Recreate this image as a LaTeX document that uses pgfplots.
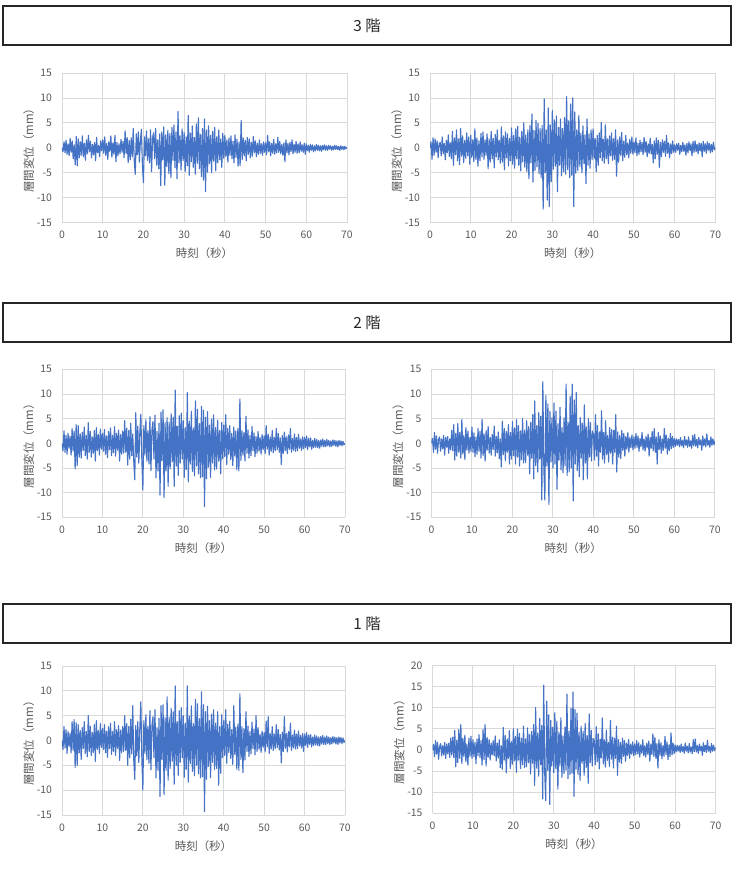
\documentclass[border=0pt]{standalone}
\usepackage{pgfplots}
\usepackage{pgfplotstable}
\pgfplotsset{compat=1.18}
\usepackage{fontspec}
\setmainfont{Noto Sans CJK JP}
\definecolor{exblue}{HTML}{4472C4}
\definecolor{txtgray}{HTML}{595959}
\definecolor{gridgray}{HTML}{D9D9D9}

\pgfplotstableread[row sep=\\]{y\\
0.0\\ -0.8\\ 1.2\\ -1.0\\ 1.5\\ -1.3\\ 0.8\\ -1.6\\ 1.9\\ -0.9\\ 1.4\\ -2.2\\ 0.6\\ -3.4\\ 2.3\\ -3.6\\ 1.8\\ -2.0\\ 1.2\\ -1.5\\
2.4\\ -1.8\\ 0.9\\ -2.5\\ 1.6\\ -1.2\\ 2.5\\ -0.8\\ 1.3\\ -2.0\\ 0.7\\ -1.4\\ 1.1\\ -2.6\\ 2.1\\ -1.0\\ 0.5\\ -1.8\\ 1.4\\ -0.6\\
1.6\\ -1.1\\ 2.2\\ -1.5\\ 0.9\\ -2.3\\ 1.2\\ -0.7\\ 2.4\\ -1.9\\ 1.0\\ -1.3\\ 2.5\\ -2.8\\ 1.1\\ -1.6\\ 0.8\\ -1.2\\ 1.7\\ -0.9\\
1.3\\ -2.0\\ 3.4\\ -1.2\\ 2.1\\ -3.0\\ 1.5\\ -2.4\\ 2.0\\ -1.8\\ 3.9\\ -2.6\\ -5.3\\ 2.8\\ -1.4\\ 3.2\\ -2.9\\ 1.4\\ 3.7\\ -3.5\\
-7.0\\ 2.2\\ -1.6\\ 3.4\\ -2.5\\ 1.8\\ -3.0\\ 3.6\\ -4.8\\ 2.0\\ 3.0\\ -2.2\\ 3.9\\ -3.5\\ 1.6\\ -4.2\\ 2.8\\ -7.6\\ 3.2\\ -2.4\\
4.2\\ -7.5\\ 2.6\\ -3.8\\ 3.5\\ -5.2\\ 2.9\\ -6.0\\ 4.1\\ -2.5\\ 4.6\\ -4.0\\ 3.2\\ -6.2\\ 7.3\\ -3.0\\ 2.4\\ -4.5\\ 3.8\\ -2.6\\
3.1\\ -4.8\\ 2.2\\ -3.6\\ 6.5\\ -5.5\\ 3.0\\ -2.8\\ 4.4\\ -3.9\\ 2.1\\ -5.3\\ 4.8\\ -3.1\\ 6.0\\ -4.2\\ 2.7\\ -5.8\\ 3.9\\ -6.5\\
5.8\\ -8.8\\ 3.6\\ -4.9\\ 4.4\\ -3.2\\ 2.5\\ -5.0\\ 3.3\\ -2.7\\ 4.1\\ -4.6\\ 2.2\\ -3.0\\ 3.6\\ -2.4\\ 1.8\\ -3.9\\ 2.9\\ -2.1\\
2.5\\ -1.8\\ 1.6\\ -2.9\\ 2.0\\ -1.5\\ 2.4\\ -2.2\\ 1.3\\ -3.0\\ 2.6\\ -1.9\\ 1.7\\ -3.7\\ 1.2\\ -3.6\\ 5.5\\ -2.4\\ 2.0\\ -1.6\\
1.5\\ -2.6\\ 2.1\\ -1.3\\ 1.8\\ -2.0\\ 1.1\\ -1.7\\ 2.3\\ -1.0\\ 1.4\\ -1.8\\ 0.9\\ -1.3\\ 1.6\\ -1.1\\ 0.8\\ -1.5\\ 1.2\\ -0.9\\
1.0\\ -1.4\\ 2.5\\ -0.8\\ 1.2\\ -1.6\\ 0.9\\ -1.1\\ 1.7\\ -1.3\\ 0.8\\ -1.0\\ 2.1\\ -0.9\\ 1.3\\ -1.2\\ 0.7\\ -1.5\\ 1.0\\ -2.8\\
1.6\\ -1.0\\ 0.9\\ -1.4\\ 1.1\\ -0.8\\ 1.6\\ -1.2\\ 0.7\\ -0.9\\ 1.3\\ -1.1\\ 0.8\\ -1.0\\ 1.2\\ -0.7\\ 0.6\\ -0.9\\ 0.9\\ -1.3\\
0.8\\ -0.6\\ 0.5\\ -0.9\\ 0.7\\ -0.5\\ 0.6\\ -0.8\\ 0.4\\ -0.6\\ 0.7\\ -0.5\\ 0.5\\ -0.6\\ 0.4\\ -0.7\\ 0.5\\ -0.4\\ 0.6\\ -0.5\\
0.4\\ -0.5\\ 0.5\\ -0.3\\ 0.4\\ -0.5\\ 0.3\\ -0.4\\ 0.5\\ -0.3\\ 0.4\\ -0.4\\ 0.3\\ -0.5\\ 0.4\\ -0.3\\ 0.3\\ -0.4\\ 0.3\\ -0.2\\
0.1\\
}\dataA

\pgfplotstableread[row sep=\\]{y\\
0.0\\ 1.2\\ -2.3\\ 2.0\\ -1.5\\ 1.8\\ -0.9\\ 1.4\\ -2.0\\ 0.8\\ 1.1\\ -1.6\\ 2.2\\ -1.2\\ 0.9\\ -2.4\\ 1.5\\ -1.0\\ 2.6\\ -1.8\\
1.0\\ -2.2\\ 3.3\\ -3.5\\ 2.0\\ -1.4\\ 3.6\\ -2.6\\ 1.8\\ -3.4\\ 3.9\\ -1.7\\ 2.4\\ -3.0\\ 1.5\\ -2.1\\ 3.0\\ -1.6\\ 2.2\\ -3.3\\
2.5\\ -1.9\\ 1.6\\ -2.8\\ 3.8\\ -2.4\\ 2.0\\ -3.7\\ 1.4\\ -2.6\\ 2.9\\ -1.8\\ 3.2\\ -2.3\\ 1.6\\ -1.5\\ 2.8\\ -4.2\\ 1.8\\ -2.9\\
3.3\\ -2.2\\ 1.9\\ -4.0\\ 2.7\\ -1.8\\ 3.6\\ -2.4\\ 1.5\\ -3.1\\ 4.2\\ -2.9\\ 2.4\\ -4.4\\ 3.2\\ -2.0\\ 2.8\\ -3.6\\ 1.9\\ -2.6\\
4.0\\ -3.3\\ 2.5\\ -4.1\\ 3.8\\ -2.2\\ 4.3\\ -3.5\\ 2.1\\ -4.6\\ 3.3\\ -2.8\\ 5.0\\ -3.9\\ 2.6\\ -4.8\\ 3.6\\ -6.2\\ 4.5\\ -3.0\\
6.8\\ -6.9\\ 3.5\\ -4.5\\ 5.5\\ -3.8\\ 4.9\\ -5.2\\ 3.9\\ -6.0\\ 4.5\\ -12.3\\ 9.8\\ -5.0\\ 3.6\\ -10.5\\ 8.0\\ -11.8\\ 4.6\\ -6.8\\
7.5\\ -4.3\\ 5.6\\ -3.7\\ 6.4\\ -8.8\\ 4.1\\ -3.5\\ 5.8\\ -5.6\\ 3.9\\ -4.8\\ 6.1\\ -5.3\\ 10.3\\ -4.4\\ 5.4\\ -6.0\\ 8.8\\ -5.5\\
10.0\\ -11.8\\ 7.2\\ -5.1\\ 3.6\\ -4.6\\ 6.5\\ -3.8\\ 2.9\\ -5.0\\ 4.4\\ -3.2\\ 2.6\\ -7.2\\ 5.8\\ -3.5\\ 2.8\\ -4.1\\ 3.6\\ -2.4\\
3.8\\ -2.2\\ 1.9\\ -4.8\\ 2.5\\ -3.5\\ 3.0\\ -2.0\\ 5.1\\ -2.6\\ 1.7\\ -3.1\\ 4.6\\ -2.2\\ 1.8\\ -3.2\\ 2.4\\ -1.6\\ 3.0\\ -2.5\\
1.8\\ -2.3\\ 3.6\\ -5.7\\ 1.6\\ -2.9\\ 2.2\\ -1.5\\ 3.1\\ -2.6\\ 1.3\\ -1.9\\ 2.5\\ -1.4\\ 1.0\\ -2.0\\ 1.7\\ -1.1\\ 2.2\\ -1.3\\
1.2\\ -1.0\\ 2.0\\ -1.6\\ 0.9\\ -1.3\\ 1.5\\ -0.8\\ 1.1\\ -1.4\\ 2.1\\ -0.9\\ 1.3\\ -1.8\\ 0.8\\ -1.1\\ 1.9\\ -1.2\\ 0.7\\ -3.0\\
1.4\\ -2.2\\ 2.0\\ -1.3\\ 1.5\\ -4.0\\ 1.1\\ -1.8\\ 1.6\\ -0.9\\ 1.3\\ -1.7\\ 2.5\\ -1.1\\ 1.0\\ -2.0\\ 0.8\\ -1.2\\ 1.4\\ -0.9\\
0.6\\ -0.9\\ 0.8\\ -0.5\\ 0.9\\ -1.3\\ 0.5\\ -0.8\\ 1.1\\ -0.7\\ 0.6\\ -1.5\\ 0.9\\ -1.0\\ 1.2\\ -0.6\\ 0.8\\ -1.6\\ 1.3\\ -0.9\\
1.4\\ -0.8\\ 0.7\\ -1.2\\ 1.0\\ -0.6\\ 0.9\\ -1.8\\ 1.3\\ -0.7\\ 0.8\\ -1.1\\ 1.2\\ -0.5\\ 0.9\\ -1.0\\ 0.7\\ -0.8\\ 1.1\\ -0.4\\
0.0\\
}\dataB

\pgfplotstableread[row sep=\\]{y\\
0.0\\ -1.5\\ 2.5\\ -1.8\\ 1.6\\ -2.2\\ 2.0\\ -1.0\\ 1.4\\ -2.4\\ 3.0\\ -1.6\\ 2.5\\ -5.2\\ 3.8\\ -4.5\\ 3.6\\ -2.8\\ 1.9\\ -3.0\\
2.2\\ -1.4\\ 3.3\\ -2.5\\ 1.6\\ -3.2\\ 4.2\\ -1.8\\ 2.4\\ -2.8\\ 1.3\\ -2.0\\ 2.6\\ -3.6\\ 3.2\\ -1.5\\ 1.8\\ -2.4\\ 2.9\\ -1.2\\
2.0\\ -1.6\\ 2.8\\ -2.2\\ 1.5\\ -2.9\\ 2.4\\ -1.3\\ 3.1\\ -2.5\\ 1.6\\ -1.9\\ 3.4\\ -2.6\\ 2.0\\ -1.4\\ 2.7\\ -3.6\\ 1.8\\ -2.2\\
2.5\\ -2.0\\ 4.6\\ -1.8\\ 3.1\\ -4.4\\ 2.6\\ -3.2\\ 4.1\\ -2.5\\ 1.9\\ -3.6\\ -7.4\\ 6.2\\ -2.8\\ 3.5\\ -4.0\\ 2.1\\ 5.9\\ -3.3\\
-9.5\\ 3.6\\ -2.4\\ 4.8\\ -3.6\\ 2.6\\ -4.2\\ 5.4\\ -5.5\\ 2.8\\ 4.4\\ -3.2\\ 5.7\\ -7.0\\ 2.4\\ -5.6\\ 4.1\\ -10.5\\ 6.3\\ -3.5\\
6.8\\ -11.0\\ 4.2\\ -5.6\\ 5.2\\ -8.7\\ 4.3\\ -5.2\\ 6.0\\ -3.8\\ 5.3\\ -8.7\\ 10.8\\ -4.6\\ 3.5\\ -6.5\\ 5.6\\ -4.0\\ 6.1\\ -3.2\\
4.6\\ -6.9\\ 3.2\\ -5.3\\ 10.3\\ -7.8\\ 4.5\\ -4.2\\ 6.5\\ -5.7\\ 3.1\\ -6.6\\ 8.6\\ -4.6\\ 6.9\\ -6.2\\ 4.0\\ -7.0\\ 7.5\\ -6.8\\
6.7\\ -12.8\\ 5.3\\ -7.2\\ 6.4\\ -4.8\\ 3.7\\ -6.9\\ 4.9\\ -4.0\\ 5.8\\ -5.4\\ 3.2\\ -5.2\\ 4.7\\ -3.6\\ 2.6\\ -6.2\\ 4.2\\ -3.1\\
3.7\\ -2.7\\ 5.8\\ -4.3\\ 3.0\\ -2.2\\ 3.6\\ -3.3\\ 2.0\\ -4.5\\ 3.3\\ -2.6\\ 2.5\\ -5.4\\ 3.0\\ -5.6\\ 9.0\\ -3.5\\ 2.6\\ -2.4\\
2.2\\ -3.6\\ 5.5\\ -2.0\\ 2.7\\ -3.0\\ 1.6\\ -2.5\\ 3.4\\ -1.5\\ 2.1\\ -2.7\\ 1.4\\ -2.0\\ 2.4\\ -1.6\\ 1.2\\ -2.2\\ 1.8\\ -1.3\\
1.5\\ -2.1\\ 3.6\\ -1.2\\ 1.8\\ -2.4\\ 1.3\\ -1.6\\ 2.6\\ -1.9\\ 1.2\\ -1.5\\ 3.0\\ -1.3\\ 2.0\\ -1.8\\ 1.1\\ -4.3\\ 1.6\\ -2.0\\
2.3\\ -1.5\\ 1.3\\ -2.1\\ 1.7\\ -1.2\\ 3.0\\ -1.8\\ 1.0\\ -1.4\\ 1.9\\ -1.6\\ 1.2\\ -1.5\\ 1.8\\ -1.0\\ 0.9\\ -1.4\\ 1.3\\ -1.1\\
1.2\\ -0.9\\ 1.5\\ -1.3\\ 1.0\\ -0.7\\ 1.1\\ -1.2\\ 0.6\\ -0.9\\ 1.0\\ -0.8\\ 0.8\\ -0.9\\ 0.6\\ -1.0\\ 0.7\\ -0.6\\ 0.9\\ -0.7\\
0.6\\ -0.7\\ 0.8\\ -0.5\\ 0.6\\ -0.7\\ 0.5\\ -0.6\\ 0.7\\ -0.4\\ 0.6\\ -0.6\\ 0.5\\ -0.7\\ 0.6\\ -0.4\\ 0.5\\ -0.5\\ 0.4\\ -0.3\\
0.0\\
}\dataC

\pgfplotstableread[row sep=\\]{y\\
0.0\\ 1.0\\ -1.8\\ 2.2\\ -1.2\\ 1.5\\ -2.0\\ 0.8\\ 1.3\\ -1.6\\ 0.9\\ -1.1\\ 1.6\\ -2.4\\ 1.2\\ -0.8\\ 1.4\\ -2.0\\ 0.9\\ -1.3\\
2.6\\ -1.5\\ 3.8\\ -3.4\\ 2.0\\ -2.6\\ 4.0\\ -1.8\\ 2.2\\ -3.0\\ 4.8\\ -2.2\\ 1.6\\ -3.3\\ 3.2\\ -1.4\\ 2.5\\ -2.0\\ 1.2\\ -1.6\\
3.3\\ -1.8\\ 2.1\\ -2.7\\ 1.3\\ -2.2\\ 3.0\\ -1.6\\ 2.4\\ -3.0\\ 4.9\\ -2.5\\ 1.9\\ -3.6\\ 2.6\\ -1.4\\ 3.4\\ -2.0\\ 1.2\\ -2.4\\
1.8\\ -1.2\\ 3.5\\ -2.6\\ 1.4\\ -1.9\\ 2.3\\ -3.1\\ 0.9\\ -4.8\\ 4.5\\ -2.3\\ 3.0\\ -3.5\\ 2.4\\ -1.8\\ 3.8\\ -4.2\\ 2.2\\ -3.2\\
4.4\\ -2.5\\ 3.1\\ -4.2\\ 4.8\\ -2.8\\ 3.6\\ -4.6\\ 2.5\\ -3.3\\ 5.0\\ -4.0\\ 2.7\\ -3.9\\ 4.6\\ -2.4\\ 3.4\\ -6.2\\ 4.2\\ -3.0\\
5.8\\ -7.2\\ 8.6\\ -4.5\\ 3.6\\ -5.8\\ 6.2\\ -3.2\\ 5.5\\ -11.5\\ 12.5\\ -5.0\\ -11.5\\ 9.7\\ -4.6\\ 8.0\\ -12.4\\ 6.5\\ -3.8\\ 5.2\\
-5.0\\ 8.2\\ -4.2\\ 6.5\\ -9.3\\ 4.0\\ -3.4\\ 7.3\\ -5.4\\ 3.2\\ -6.0\\ 5.2\\ -4.6\\ 12.0\\ -6.5\\ 4.3\\ -5.8\\ 9.5\\ -5.0\\ 12.0\\
-11.7\\ 8.8\\ -4.2\\ 10.3\\ -5.5\\ 3.6\\ -6.8\\ 5.2\\ -3.0\\ 4.1\\ -7.4\\ 7.8\\ -4.0\\ 3.3\\ -7.2\\ 5.0\\ -2.8\\ 4.2\\ -3.6\\ 2.5\\
1.8\\ -3.4\\ 5.8\\ -2.6\\ 3.6\\ -4.6\\ 2.3\\ -1.8\\ 6.6\\ -3.2\\ 2.2\\ -4.0\\ 4.6\\ -2.3\\ 1.6\\ -3.8\\ 3.2\\ -2.0\\ 2.8\\ -4.2\\
2.6\\ -1.8\\ 5.8\\ -5.8\\ 2.3\\ -2.8\\ 1.6\\ -3.1\\ 2.6\\ -1.4\\ 2.0\\ -2.6\\ 1.4\\ -1.2\\ 2.2\\ -1.8\\ 1.2\\ -0.9\\ 1.7\\ -1.3\\
1.3\\ -1.0\\ 2.0\\ -0.8\\ 1.5\\ -1.6\\ 1.0\\ -0.7\\ 2.2\\ -1.3\\ 0.9\\ -1.6\\ 1.4\\ -0.9\\ 1.9\\ -2.6\\ 1.2\\ -1.0\\ 2.4\\ -1.5\\
3.0\\ -1.8\\ 1.3\\ -4.2\\ 2.2\\ -1.2\\ 1.5\\ -2.0\\ 0.9\\ -1.4\\ 3.0\\ -1.0\\ 1.7\\ -2.2\\ 1.0\\ -1.5\\ 2.0\\ -1.1\\ 1.4\\ -0.8\\
1.0\\ -0.6\\ 0.9\\ -0.4\\ 0.8\\ -0.7\\ 1.2\\ -0.5\\ 0.6\\ -0.9\\ 1.4\\ -0.4\\ 0.7\\ -0.8\\ 1.3\\ -0.6\\ 0.5\\ -1.0\\ 1.6\\ -0.5\\
1.8\\ -0.6\\ 0.8\\ -0.9\\ 1.2\\ -0.3\\ 0.7\\ -1.4\\ 1.5\\ -0.5\\ 0.9\\ -0.7\\ 1.9\\ -0.4\\ 0.6\\ -0.8\\ 1.3\\ -0.4\\ 0.9\\ -0.3\\
0.5\\
}\dataD

\pgfplotstableread[row sep=\\]{y\\
0.0\\ -1.8\\ 2.8\\ -1.5\\ 2.2\\ -2.6\\ 1.8\\ -1.2\\ 1.5\\ -2.5\\ 3.8\\ -2.0\\ 4.2\\ -5.4\\ 3.6\\ -5.0\\ 3.2\\ -2.5\\ 2.0\\ -3.8\\
2.6\\ -1.6\\ 3.8\\ -2.6\\ 1.8\\ -3.3\\ 5.0\\ -2.2\\ 2.9\\ -3.0\\ 1.6\\ -2.4\\ 3.2\\ -4.2\\ 4.0\\ -1.8\\ 2.0\\ -2.6\\ 3.4\\ -1.4\\
2.4\\ -1.8\\ 3.2\\ -2.5\\ 1.9\\ -3.4\\ 2.8\\ -1.6\\ 3.5\\ -2.8\\ 1.8\\ -2.2\\ 3.8\\ -3.0\\ 2.2\\ -1.6\\ 3.0\\ -4.0\\ 2.1\\ -2.5\\
2.8\\ -2.2\\ 5.0\\ -2.0\\ 3.4\\ -5.0\\ 2.8\\ -3.5\\ 4.3\\ -2.7\\ 7.0\\ -3.9\\ -7.8\\ 3.0\\ -3.1\\ 3.8\\ -4.4\\ 2.4\\ 7.8\\ -3.6\\
-10.0\\ 4.0\\ -2.6\\ 5.2\\ -3.9\\ 2.9\\ -4.6\\ 6.0\\ -5.9\\ 3.1\\ 4.8\\ -3.5\\ 6.2\\ -7.5\\ 2.6\\ -6.0\\ 4.5\\ -11.3\\ 7.0\\ -3.8\\
7.2\\ -10.9\\ 4.6\\ -6.0\\ 8.8\\ -8.0\\ 4.7\\ -5.6\\ 6.5\\ -4.2\\ 5.8\\ -8.8\\ 11.0\\ -5.0\\ 3.8\\ -7.0\\ 6.0\\ -4.4\\ 6.6\\ -3.5\\
5.0\\ -7.4\\ 3.5\\ -5.8\\ 11.0\\ -8.4\\ 4.9\\ -4.6\\ 7.0\\ -6.2\\ 3.4\\ -7.1\\ 8.3\\ -5.0\\ 7.4\\ -6.7\\ 4.4\\ -7.5\\ 9.8\\ -7.3\\
7.2\\ -14.3\\ 5.8\\ -7.8\\ 6.9\\ -5.2\\ 4.0\\ -7.5\\ 5.3\\ -4.4\\ 6.2\\ -5.8\\ 3.5\\ -5.6\\ 5.8\\ -9.0\\ 2.8\\ -6.6\\ 5.2\\ -3.4\\
4.0\\ -3.0\\ 6.2\\ -4.6\\ 3.3\\ -2.4\\ 3.9\\ -3.6\\ 2.2\\ -4.8\\ 7.0\\ -2.8\\ 2.7\\ -5.8\\ 3.3\\ -6.0\\ 9.4\\ -3.8\\ 2.8\\ -6.5\\
2.4\\ -3.9\\ 5.8\\ -2.2\\ 2.9\\ -3.2\\ 1.8\\ -2.7\\ 3.7\\ -1.6\\ 2.3\\ -2.9\\ 5.0\\ -2.2\\ 2.6\\ -1.8\\ 1.3\\ -2.4\\ 1.9\\ -1.4\\
1.6\\ -2.3\\ 3.9\\ -1.3\\ 4.8\\ -2.6\\ 1.4\\ -1.7\\ 2.8\\ -2.0\\ 1.3\\ -1.6\\ 3.2\\ -1.4\\ 2.2\\ -1.9\\ 1.2\\ -4.5\\ 1.7\\ -2.2\\
4.8\\ -1.6\\ 1.4\\ -2.3\\ 1.8\\ -1.3\\ 3.5\\ -2.0\\ 1.1\\ -1.5\\ 2.1\\ -1.7\\ 1.3\\ -1.6\\ 1.9\\ -1.1\\ 1.0\\ -1.5\\ 1.4\\ -2.2\\
1.3\\ -1.0\\ 1.6\\ -1.4\\ 1.1\\ -0.8\\ 1.2\\ -1.3\\ 0.7\\ -1.0\\ 1.1\\ -0.9\\ 0.9\\ -1.0\\ 0.7\\ -1.1\\ 0.8\\ -0.7\\ 1.0\\ -0.8\\
0.7\\ -0.8\\ 0.9\\ -0.6\\ 0.7\\ -0.8\\ 0.6\\ -0.7\\ 0.8\\ -0.5\\ 0.7\\ -0.7\\ 0.6\\ -0.8\\ 0.7\\ -0.5\\ 0.6\\ -0.6\\ 0.5\\ -0.4\\
0.0\\
}\dataE

\pgfplotstableread[row sep=\\]{y\\
0.0\\ 1.3\\ -1.6\\ 2.2\\ -1.0\\ 1.8\\ -2.2\\ 0.8\\ 1.5\\ -1.4\\ 1.0\\ -1.2\\ 1.8\\ -2.0\\ 1.4\\ -0.9\\ 1.6\\ -1.8\\ 2.8\\ -1.2\\
3.0\\ -1.8\\ 4.6\\ -4.0\\ 2.3\\ -3.0\\ 4.8\\ -2.0\\ 6.0\\ -3.2\\ 2.8\\ -1.6\\ 3.5\\ -2.8\\ 1.4\\ -3.6\\ 2.8\\ -1.5\\ 3.2\\ -2.0\\
2.4\\ -1.6\\ 1.8\\ -3.2\\ 2.6\\ -1.4\\ 3.6\\ -1.8\\ 2.2\\ -3.6\\ 4.8\\ -2.3\\ 6.0\\ -3.8\\ 3.0\\ -1.8\\ 2.5\\ -2.4\\ 1.6\\ -1.2\\
2.2\\ -1.4\\ 3.3\\ -2.6\\ 1.6\\ -1.9\\ 2.4\\ -4.2\\ 1.0\\ -4.6\\ 5.3\\ -2.4\\ 3.4\\ -5.4\\ 2.6\\ -2.0\\ 4.6\\ -4.4\\ 2.0\\ -3.4\\
5.0\\ -2.6\\ 3.2\\ -5.3\\ 4.9\\ -2.4\\ 3.9\\ -4.4\\ 2.8\\ -3.5\\ 5.6\\ -4.2\\ 2.6\\ -4.0\\ 5.2\\ -3.0\\ 3.6\\ -5.7\\ 4.4\\ -3.2\\
6.0\\ -8.4\\ 10.0\\ -4.3\\ 4.0\\ -6.2\\ 7.5\\ -3.5\\ 5.8\\ -11.6\\ 15.3\\ -5.5\\ -12.0\\ 11.5\\ -4.8\\ 8.3\\ -12.9\\ 7.0\\ -3.8\\ 5.4\\
-5.4\\ 8.8\\ -4.5\\ 6.8\\ -9.3\\ 4.2\\ -3.8\\ 7.6\\ -6.5\\ 3.3\\ -5.6\\ 5.4\\ -4.8\\ 13.2\\ -6.8\\ 4.5\\ -5.8\\ 9.8\\ -5.5\\ 13.7\\
-11.0\\ 9.5\\ -4.6\\ 8.7\\ -5.8\\ 4.2\\ -7.2\\ 5.6\\ -3.2\\ 4.4\\ -6.0\\ 6.3\\ -4.2\\ 3.4\\ -7.9\\ 8.5\\ -3.0\\ 4.6\\ -3.8\\ 2.7\\
2.2\\ -3.5\\ 5.5\\ -2.8\\ 3.8\\ -4.5\\ 2.5\\ -1.9\\ 7.6\\ -3.3\\ 2.4\\ -4.1\\ 4.7\\ -2.5\\ 1.8\\ -3.9\\ 7.0\\ -2.2\\ 3.0\\ -4.3\\
2.8\\ -2.0\\ 5.6\\ -6.0\\ 2.4\\ -2.9\\ 1.8\\ -3.2\\ 2.8\\ -1.5\\ 2.2\\ -2.7\\ 1.6\\ -1.3\\ 2.5\\ -2.0\\ 1.4\\ -1.0\\ 1.9\\ -1.4\\
1.4\\ -1.1\\ 2.2\\ -0.9\\ 1.7\\ -1.7\\ 1.2\\ -0.8\\ 2.4\\ -1.4\\ 1.0\\ -1.7\\ 1.6\\ -1.0\\ 2.1\\ -2.7\\ 1.4\\ -1.1\\ 3.8\\ -1.6\\
3.0\\ -2.0\\ 1.5\\ -4.3\\ 2.4\\ -1.3\\ 1.7\\ -2.1\\ 1.0\\ -1.5\\ 3.2\\ -1.1\\ 1.9\\ -2.3\\ 1.2\\ -1.6\\ 4.0\\ -1.2\\ 1.6\\ -0.9\\
1.2\\ -0.5\\ 1.1\\ -0.3\\ 1.0\\ -0.6\\ 1.4\\ -0.4\\ 0.8\\ -0.8\\ 1.6\\ -0.3\\ 0.9\\ -0.7\\ 1.5\\ -0.5\\ 0.7\\ -0.9\\ 2.4\\ -0.4\\
2.6\\ -0.5\\ 1.0\\ -0.8\\ 1.4\\ -0.2\\ 0.9\\ -1.3\\ 1.7\\ -0.4\\ 1.1\\ -0.6\\ 2.3\\ -0.3\\ 0.8\\ -0.7\\ 1.5\\ -0.3\\ 1.1\\ -0.2\\
0.6\\
}\dataF

\pgfplotsset{
  quake/.style={
    scale only axis,
    anchor=south west,
    xmin=0, xmax=70, xtick={0,10,...,70},
    ymin=-15, ymax=15, ytick={-15,-10,...,15},
    axis line style={draw=none},
    major tick length=0pt,
    grid=major,
    major grid style={gridgray, line width=0.7pt},
    tick label style={font=\fontsize{7.8}{8}\selectfont, text=txtgray},
    /pgf/number format/assume math mode=true,
    xticklabel style={yshift=-3pt},
    yticklabel style={xshift=-4pt},
    every axis x label/.style={at={(axis description cs:0.5,0)}, anchor=center, yshift=-23pt,
      font=\fontsize{8.6}{10}\selectfont, text=txtgray},
    every axis y label/.style={at={(axis description cs:0,0.5)}, xshift=-25pt, anchor=center, rotate=90,
      font=\fontsize{8.6}{10}\selectfont, text=txtgray},
    xlabel={時刻（秒）},
    ylabel={層間変位（mm）},
  },
  wave/.style={exblue, line width=0.85pt, no marks, line join=round},
}

\begin{document}
\begin{tikzpicture}
\path[use as bounding box] (0,0) rectangle (558.75pt,-661.5pt);

% headers
\draw[black!85, line width=1.1pt] (2.25pt,-4.5pt) rectangle (548.25pt,-33.75pt);
\node[font=\fontsize{11.5}{12}\selectfont, text=black!85] at (275.25pt,-19.1pt) {3 階};
\draw[black!85, line width=1.1pt] (2.25pt,-227.25pt) rectangle (548.25pt,-256.5pt);
\node[font=\fontsize{11.5}{12}\selectfont, text=black!85] at (275.25pt,-241.9pt) {2 階};
\draw[black!85, line width=1.1pt] (2.25pt,-453pt) rectangle (548.25pt,-482.25pt);
\node[font=\fontsize{11.5}{12}\selectfont, text=black!85] at (275.25pt,-467.6pt) {1 階};

% row 1 (3F)
\begin{axis}[quake, at={(46.5pt,-166.9pt)}, width=213.75pt, height=112.1pt]
\addplot[wave] table[x expr=\coordindex*0.25, y=y] {\dataA};
\end{axis}
\begin{axis}[quake, at={(322.5pt,-166.9pt)}, width=214.1pt, height=112.1pt]
\addplot[wave] table[x expr=\coordindex*0.25, y=y] {\dataB};
\end{axis}

% row 2 (2F)
\begin{axis}[quake, at={(46.5pt,-388pt)}, width=212.25pt, height=111pt]
\addplot[wave] table[x expr=\coordindex*0.25, y=y] {\dataC};
\end{axis}
\begin{axis}[quake, at={(323.6pt,-388pt)}, width=212.6pt, height=111pt]
\addplot[wave] table[x expr=\coordindex*0.25, y=y] {\dataD};
\end{axis}

% row 3 (1F)
\begin{axis}[quake, at={(46.5pt,-611.25pt)}, width=212.25pt, height=111.75pt]
\addplot[wave] table[x expr=\coordindex*0.25, y=y] {\dataE};
\end{axis}
\begin{axis}[quake, at={(324.4pt,-610pt)}, width=212.25pt, height=111pt,
  ymax=20, ytick={-15,-10,...,20}]
\addplot[wave] table[x expr=\coordindex*0.25, y=y] {\dataF};
\end{axis}
\end{tikzpicture}
\end{document}
